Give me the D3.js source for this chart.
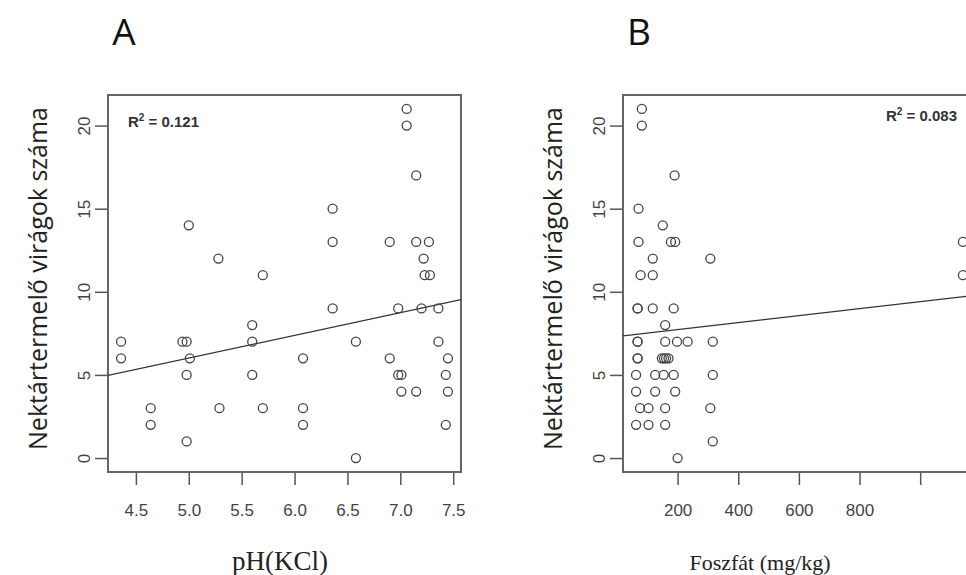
<!DOCTYPE html>
<html>
<head>
<meta charset="utf-8">
<script src="https://cdn.jsdelivr.net/npm/d3@7"></script>
<style>
  body { margin: 0; background: #fff; }
  svg { display: block; }
  .tick text { font-family: "Liberation Sans", Arial, sans-serif; font-size: 17px; fill: #444; }
</style>
</head>
<body>
<div id="vis"></div>
<script>
// panel A: pH(KCl) vs number of nectar producing flowers
var phX = [4.36, 4.36, 4.64, 4.64, 4.94, 4.98, 5.01, 4.98, 4.98, 5.00, 5.28, 5.29, 5.60, 5.60, 5.60, 5.70,
           5.70, 6.08, 6.08, 6.08, 6.36, 6.36, 6.36, 6.58, 6.58, 6.90, 6.90, 6.98, 6.98, 7.01, 7.01, 7.06,
           7.06, 7.15, 7.15, 7.15, 7.27, 7.22, 7.23, 7.28, 7.20, 7.36, 7.36, 7.45, 7.43, 7.45, 7.43];
var phY = [7, 6, 3, 2, 7, 7, 6, 5, 1, 14, 12, 3, 8, 7, 5, 11,
           3, 6, 3, 2, 15, 13, 9, 7, 0, 13, 6, 9, 5, 5, 4, 21,
           20, 17, 13, 4, 13, 12, 11, 11, 9, 9, 7, 6, 5, 4, 2];
var phFit = { intercept: -0.82, slope: 1.367, r2: "0.121" };

// panel B: phosphate (mg/kg) vs number of nectar producing flowers
var pX = [82, 82, 190, 71, 151, 71, 178, 192, 1141, 118, 308, 78, 118, 1141,
          68, 68, 118, 187, 159, 68, 68, 159, 198, 233, 316, 68, 68, 148, 155, 162, 170,
          63, 126, 154, 187, 316, 63, 126, 192, 76, 104, 159, 308, 63, 104, 159, 316, 200];
var pY = [21, 20, 17, 15, 14, 13, 13, 13, 13, 12, 12, 11, 11, 11,
          9, 9, 9, 9, 8, 7, 7, 7, 7, 7, 7, 6, 6, 6, 6, 6, 6,
          5, 5, 5, 5, 5, 4, 4, 4, 3, 3, 3, 3, 2, 2, 2, 1, 0];
var pFit = { intercept: 7.31, slope: 0.0021, r2: "0.083" };

var yTicks = [0, 5, 10, 15, 20];
var yTitle = "Nektártermelő virágok száma";

var svg = d3.select("#vis").append("svg")
    .attr("width", 966)
    .attr("height", 575);

function panel(opt) {
    var left = opt.left, top = 95, w = 353, h = 377;
    var g = svg.append("g").attr("transform", "translate(" + left + "," + top + ")");

    // R style domain: data range padded by 4%
    var xr = d3.extent(opt.xs), yr = d3.extent(opt.ys);
    var xp = (xr[1] - xr[0]) * 0.04, yp = (yr[1] - yr[0]) * 0.04;
    var x = d3.scaleLinear().domain([xr[0] - xp, xr[1] + xp]).range([0, w]);
    var y = d3.scaleLinear().domain([yr[0] - yp, yr[1] + yp]).range([h, 0]);

    g.append("clipPath").attr("id", "clip" + opt.id)
        .append("rect").attr("width", w).attr("height", h);

    // x axis
    var xa = g.append("g").attr("transform", "translate(0," + h + ")")
        .call(d3.axisBottom(x).tickValues(opt.xTicks).tickSize(13).tickPadding(19)
            .tickFormat(function (d) { return opt.xLabels.indexOf(d) >= 0 ? opt.fmt(d) : ""; }));
    xa.select(".domain").remove();
    xa.selectAll(".tick line").attr("stroke", "#555").attr("stroke-width", 1.5);

    // y axis
    var ya = g.append("g")
        .call(d3.axisLeft(y).tickValues(yTicks).tickSize(13).tickPadding(0).tickFormat(d3.format("d")));
    ya.select(".domain").remove();
    ya.selectAll(".tick line").attr("stroke", "#555").attr("stroke-width", 1.5);
    ya.selectAll(".tick text")
        .attr("text-anchor", "middle")
        .attr("transform", "translate(-24,0) rotate(-90)")
        .attr("x", 0).attr("dy", "0.35em");

    // box
    g.append("rect").attr("width", w).attr("height", h)
        .attr("fill", "none").attr("stroke", "#666").attr("stroke-width", 2);

    var inner = g.append("g").attr("clip-path", "url(#clip" + opt.id + ")");

    // regression line
    var x0 = x.domain()[0], x1 = x.domain()[1];
    inner.append("line")
        .attr("x1", x(x0)).attr("y1", y(opt.fit.intercept + opt.fit.slope * x0))
        .attr("x2", x(x1)).attr("y2", y(opt.fit.intercept + opt.fit.slope * x1))
        .attr("stroke", "#333").attr("stroke-width", 1.3);

    // points
    inner.selectAll(".dot")
        .data(d3.range(opt.xs.length))
        .enter().append("circle")
        .attr("class", "dot")
        .attr("r", 4.5)
        .attr("cx", function (i) { return x(opt.xs[i]); })
        .attr("cy", function (i) { return y(opt.ys[i]); })
        .attr("fill", "none")
        .attr("stroke", "#444")
        .attr("stroke-width", 1.3);

    // R squared
    var r2 = g.append("text")
        .attr("x", opt.r2x).attr("y", opt.r2y)
        .attr("text-anchor", opt.r2anchor)
        .style("font-family", "Liberation Sans, Arial, sans-serif")
        .style("font-size", "15px").style("font-weight", "bold").style("fill", "#333");
    r2.append("tspan").text("R");
    r2.append("tspan").attr("dy", -6).style("font-size", "10px").text("2");
    r2.append("tspan").attr("dy", 6).text(" = " + opt.fit.r2);

    // panel letter
    svg.append("text")
        .attr("x", left + 16).attr("y", 45)
        .attr("text-anchor", "middle")
        .style("font-family", "Open Sans, DejaVu Sans, sans-serif")
        .style("font-size", "37px").style("fill", "#111")
        .text(opt.id);

    // y title
    svg.append("text")
        .attr("transform", "translate(" + (left - 61) + "," + (top + h / 2 - 5) + ") rotate(-90)")
        .attr("text-anchor", "middle")
        .style("font-family", "Open Sans, DejaVu Sans, sans-serif")
        .style("font-size", "25px").style("fill", "#222")
        .text(yTitle);

    // x title
    svg.append("text")
        .attr("x", left + opt.xTitleX).attr("y", 570)
        .attr("text-anchor", "middle")
        .style("font-family", "Liberation Serif, Times New Roman, serif")
        .style("font-size", opt.xTitleSize).style("fill", "#222")
        .text(opt.xTitle);
}

panel({ id: "A", left: 108, xs: phX, ys: phY, fit: phFit,
    xTicks: [4.5, 5.0, 5.5, 6.0, 6.5, 7.0, 7.5], xLabels: [4.5, 5.0, 5.5, 6.0, 6.5, 7.0, 7.5],
    fmt: d3.format(".1f"), xTitle: "pH(KCl)", xTitleX: 172, xTitleSize: "27px",
    r2x: 20, r2y: 32, r2anchor: "start" });

panel({ id: "B", left: 623, xs: pX, ys: pY, fit: pFit,
    xTicks: [200, 400, 600, 800, 1000], xLabels: [200, 400, 600, 800],
    fmt: d3.format("d"), xTitle: "Foszfát (mg/kg)", xTitleX: 137, xTitleSize: "22px",
    r2x: 334, r2y: 26, r2anchor: "end" });
</script>
</body>
</html>
